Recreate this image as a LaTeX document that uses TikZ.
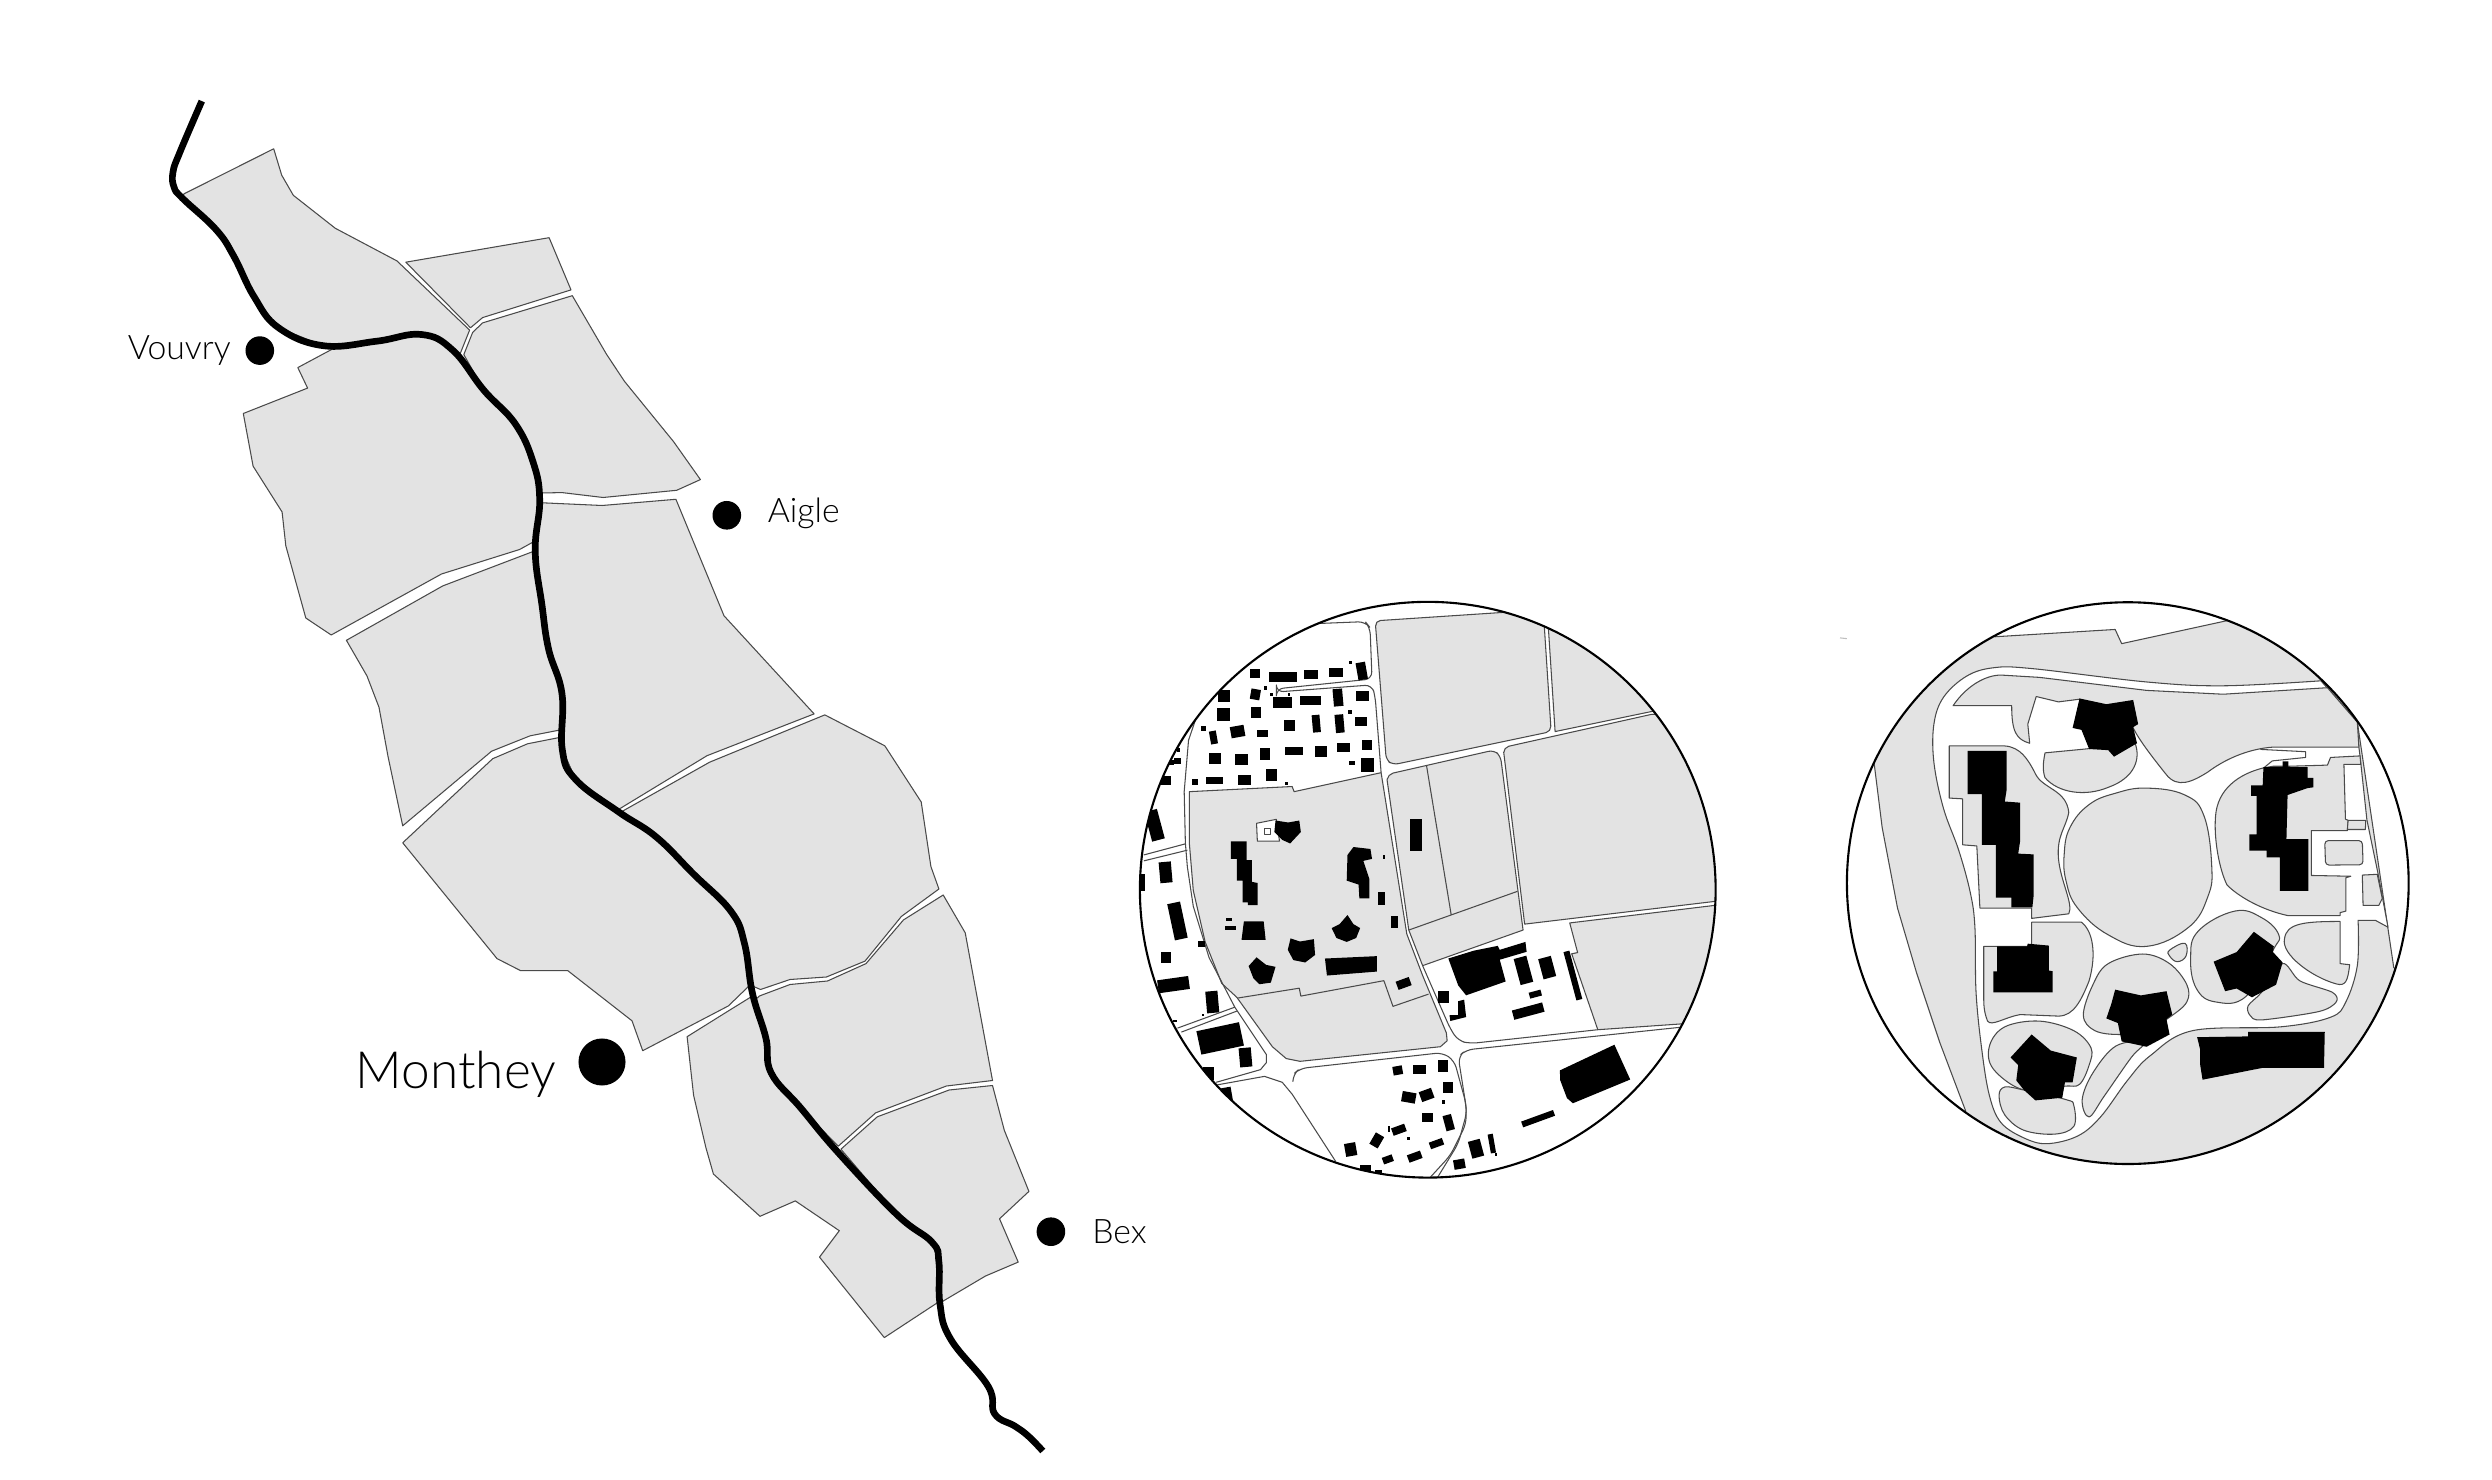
\documentclass[tikz,border=0pt]{standalone}
\usepackage{fontspec}
\setmainfont{Lato Light}
\usetikzlibrary{positioning}
\definecolor{fieldgray}{HTML}{E3E3E3}
\definecolor{linegray}{HTML}{4A4A4A}
\tikzset{
	fieldarea/.style={draw=linegray,fill=fieldgray,line width=0.3pt,line join=round},
	roadline/.style={draw=linegray,line width=0.3pt,line join=round},
	whitearea/.style={draw=linegray,fill=white,line width=0.3pt,line join=round},
	house/.style={fill=black},
	rivercourse/.style={draw=black,line width=1.9pt,line join=round},
	towndot/.style={circle,fill=black,inner sep=0pt,minimum size=0.286cm},
	citydot/.style={circle,fill=black,inner sep=0pt,minimum size=0.47cm},
	townlabel/.style={inner sep=0pt,font=\fontsize{9.6}{11}\selectfont},
	citylabel/.style={inner sep=0pt,font=\fontsize{14.6}{16}\selectfont},
	lens/.style={draw=black,line width=0.6pt}
}
\begin{document}
\begin{tikzpicture}[x=0.01cm,y=-0.01cm]
	\useasboundingbox (0,0) rectangle (2492,1480);
	\draw[fieldarea] (183.9,193.9) -- (273.7,148.8) -- (281.7,175.2) -- (293.3,195.3) -- (335.3,228.3) -- (396.9,260.9) -- (469.6,330.1) -- (459.8,354.6) -- (483.9,390.3) -- (515.2,423.8) -- (533,461.8) -- (539.7,499.7) -- (535,541) -- (519.6,549.5) -- (441.5,574) -- (331.2,635) -- (305.8,618) -- (285.8,545.8) -- (282.1,512) -- (253.1,466.2) -- (243.3,413.5) -- (307.6,388.1) -- (297.8,367.6) -- (334.4,348) -- (323.2,345.7) -- (278.6,327.8) -- (254,296.6) -- (233.9,256.4) -- (216,229.6) -- (182.6,198.4) -- cycle;
	\draw[fieldarea] (405.8,262.2) -- (549.1,237.7) -- (571,289.9) -- (482.6,317.6) -- (470.5,327.8) -- cycle;
	\draw[fieldarea] (572.3,295.7) -- (606.7,354.6) -- (624.5,381.4) -- (673.6,441.7) -- (700.4,479.6) -- (676.7,490.3) -- (603.1,497.5) -- (562,492.6) -- (541.9,493) -- (533,461.8) -- (515.2,423.8) -- (483.9,390.3) -- (463.8,354.6) -- (472.7,332.3) -- (482.6,322.9) -- cycle;
	\draw[fieldarea] (346.4,640.3) -- (442.8,585.9) -- (532.1,551.9) -- (535.2,551) -- (541.9,604.6) -- (548.6,649.2) -- (562,693.9) -- (561,729.8) -- (530.2,735.8) -- (491.6,751.2) -- (402.7,825.8) -- (388,756.4) -- (379,707.3) -- (367,676) -- cycle;
	\draw[fieldarea] (542,502.8) -- (602.2,505.5) -- (675.9,499.3) -- (724,615.8) -- (814.1,713.9) -- (707,755.7) -- (618.6,809.4) -- (575.7,779.6) -- (562.3,749.7) -- (562,693.9) -- (548.6,649.2) -- (541.9,604.6) -- (535.2,551) -- (539.7,502) -- cycle;
	\draw[fieldarea] (402.7,842.8) -- (492.7,758.7) -- (527.5,743.8) -- (562,737) -- (562.3,749.7) -- (575.7,779.6) -- (618.6,811.9) -- (656,836.8) -- (693.6,874.1) -- (731,911.4) -- (744.5,943.7) -- (750,985) -- (728.4,1005.9) -- (642.7,1050.7) -- (632,1020.8) -- (567.7,970.6) -- (520.5,970.6) -- (497,958.6) -- cycle;
	\draw[fieldarea] (824.8,714.9) -- (884.8,745.8) -- (921.2,802) -- (930.9,866.6) -- (938.9,889) -- (901.4,916.4) -- (865,961.1) -- (826.4,977) -- (790,979.5) -- (760.5,989.5) -- (750,985) -- (744.5,943.7) -- (731,911.4) -- (693.6,874.1) -- (656,836.8) -- (621.2,811.9) -- (709.6,762.2) -- cycle;
	\draw[fieldarea] (943.2,895) -- (965.2,932.8) -- (992.5,1080.5) -- (946.4,1086) -- (875.7,1112.8) -- (838.2,1146.2) -- (800.7,1107.9) -- (771.2,1073) -- (765.9,1038.2) -- (755,1000) -- (759.4,996) -- (790,984.5) -- (827.5,981) -- (866,963.6) -- (903.5,919.9) -- cycle;
	\draw[fieldarea] (687.1,1036.7) -- (728.4,1010.9) -- (752.5,996) -- (765.9,1038.2) -- (771.2,1073) -- (800.7,1107.9) -- (838.2,1152.6) -- (897.1,1214.8) -- (932,1242.2) -- (938.9,1262) -- (940,1304) -- (937.3,1302.8) -- (884.3,1337.6) -- (819.5,1257.1) -- (839.3,1230.7) -- (795.3,1200.9) -- (760,1216.3) -- (713.4,1174) -- (705.9,1147.7) -- (693.6,1095.4) -- cycle;
	\draw[fieldarea] (992.5,1085.5) -- (1004.3,1130.3) -- (1028.9,1191.4) -- (999.5,1218.8) -- (1018.2,1262.1) -- (985.5,1276) -- (940,1302.9) -- (938.9,1262) -- (932,1242.2) -- (897.1,1214.8) -- (840.9,1149.2) -- (877.3,1116.8) -- (949.1,1090) -- cycle;
	\draw[rivercourse] plot[smooth,tension=0.7] coordinates {(201.8,101.1) (180,152) (173,172) (174,187) (182.6,198.4) (216,229.6) (233.9,256.4) (254,296.6) (278.6,327.8) (323.2,345.7) (376.8,341.2) (421.4,334.5) (452.7,350.2) (483.9,390.3) (515.2,423.8) (533,461.8) (539.7,499.7) (535.2,551) (541.9,604.6) (548.6,649.2) (562,693.9) (562.3,749.7) (575.7,779.6) (618.6,811.9) (656,836.8) (693.6,874.1) (731,911.4) (744.5,943.7) (752.5,993.5) (765.9,1038.2) (771.2,1073) (800.7,1107.9) (838.2,1152.6) (897.1,1214.8) (932,1242.2) (938.9,1262) (940,1304.3) (950.7,1339.2) (988.2,1386.4) (994.6,1413.8) (1015,1426.2) (1028.4,1436.2) (1042.8,1451)};
	\node[towndot] (vouvry) at (259.8,350.6) {};
	\node[towndot] (aigle) at (726.8,515.3) {};
	\node[citydot] (monthey) at (602,1062) {};
	\node[towndot] (bex) at (1050.9,1231.7) {};
	\node[townlabel,left=3.8pt of vouvry] (vouvrylabel) {Vouvry};
	\node[townlabel,right=7.2pt of aigle,yshift=0.5pt] (aiglelabel) {Aigle};
	\node[citylabel,left=6pt of monthey,yshift=-3.4pt] (montheylabel) {Monthey};
	\node[townlabel,right=7.3pt of bex] (bexlabel) {Bex};
	\begin{scope}[shift={(1130,590)},x=0.003954cm,y=-0.003954cm]
		\begin{scope}
			\clip (753,758) circle [radius=728];
			\draw[fieldarea,rounded corners=1.5pt] (620,78) -- (1045,50) -- (1065,358) -- (665,442) -- (648,430) -- cycle;
			\draw[fieldarea] (1055,50) -- (1330,50) -- (1330,305) -- (1075,358) -- cycle;
			\draw[fieldarea] (998,845) -- (945,410) [rounded corners=1.5pt] -- (945,398) -- (1330,312) [sharp corners] -- (1500,400) -- (1500,785) -- cycle;
			\draw[fieldarea] (1112,842) -- (1500,795) -- (1500,1090) -- (1183,1112) -- (1117,920) -- (1132,917) -- cycle;
			\draw[fieldarea] (705,860) -- (650,480) [rounded corners=1.5pt] -- (652,466) -- (920,405) -- (937,420) [sharp corners] -- (994,860) -- (740,950) -- cycle;
			\draw[roadline] (750,445) -- (812,820) (705,860) -- (980,762);
			\draw[fieldarea] (150,510) -- (410,497) -- (415,510) -- (635,462) -- (700,870) -- (740,975) -- (800,1120) -- (802,1140) -- (785,1155) -- (430,1192) -- (395,1185) -- (360,1155) -- (270,1030) -- (232,995) -- (190,890) -- (160,760) -- (150,640) -- cycle;
			\draw[roadline] (272,1032) -- (428,1007) -- (432,1027) -- (642,988) -- (665,1053) -- (755,1022);
			\draw[whitearea] (320,590) -- (370,580) -- (378,635) -- (322,635) -- cycle;
			\draw[whitearea] (340,602) rectangle (356,618);
			\draw[roadline] (165,330) -- (148,380) -- (137,510) -- (140,640) -- (145,700) -- (160,800) -- (200,930) -- (265,1055) -- (345,1175) -- (345,1195) -- (330,1213) -- (218,1245);
			\draw[roadline] (35,670) -- (140,642) (35,685) -- (145,658);
			\draw[roadline] (120,1108) -- (265,1055) (130,1118) -- (270,1065);
			\draw[roadline] (218,1252) -- (340,1230) -- (385,1245) -- (410,1275) -- (520,1445);
			\draw[roadline,rounded corners=2pt] (470,85) -- (595,80) -- (607,95) -- (612,225) -- (370,250) -- (370,258) -- (612,240) -- (620,270) -- (635,462);
			\draw[roadline,rounded corners=2pt] (412,1240) -- (412,1225) -- (430,1210) -- (790,1170) -- (820,1190) -- (850,1300) -- (850,1350) -- (810,1430) -- (755,1490);
			\draw[roadline,rounded corners=2pt] (1400,1105) -- (850,1163) -- (830,1180) -- (852,1320) -- (830,1400) -- (775,1490);
			\draw[roadline,rounded corners=2pt] (740,950) -- (810,1110) -- (830,1140) -- (860,1147) -- (1183,1112);
			\foreach \bx/\by/\bw/\bh/\ba in {316/212/24/20/0,386/220/65/22/0,457/214/32/20/0,520/208/32/20/0,586/205/22/40/10,557/184/6/8/0,238/268/28/26/0,317/264/22/24/-10,342/248/8/8/0,358/264/8/8/0,402/264/6/6/0,385/285/44/24/0,456/279/48/20/0,526/272/22/40/5,588/268/28/24/0,237/315/30/28/0,318/310/22/24/0,556/308/8/8/0,584/333/28/20/0,186/350/10/10/0,272/358/32/26/10,335/362/24/16/0,404/343/26/26/0,471/338/18/40/5,530/338/20/42/5,211/373/16/30/10,414/408/42/18/0,483/408/28/24/0,540/398/30/20/0,600/392/24/24/0,215/427/26/26/0,282/428/28/26/0,342/415/22/26/0,600/442/30/32/0,561/437/14/10/0,357/468/26/26/0,213/481/40/16/0,289/480/30/24/0,165/485/14/14/0,396/489/8/8/0,120/432/14/14/0,105/437/12/12/0,122/405/8/8/0,90/481/26/20/0,62/595/30/70/15,90/714/28/48/5,28/740/16/40/0,120/837/30/85/12,180/895/16/14/0,91/929/24/24/0,110/998/72/30/8,208/1042/28/50/5,113/1090/10/6/0,185/1075/6/6/0,228/1134/100/55/12,292/1182/28/44/5,198/1222/24/30/0,245/1280/24/40/10,636/781/18/30/0,642/676/6/10/0,669/840/18/26/0,723/620/28/74/0,251/833/14/8/0,254/855/26/10/0,692/995/32/20/20,995/962/30/62/15,1055/955/30/48/15,1120/975/14/115/15,1025/1022/28/14/15,1007/1065/72/22/15,793/1030/24/28/0,1032/1337/78/14/20,875/1413/28/40/15,915/1400/12/44/10,926/1428/6/6/0,833/1452/26/22/10,677/1215/22/20/10,733/1213/30/22/0,792/1204/24/26/0,705/1283/32/24/-10,750/1277/30/24/20,804/1258/24/24/0,793/1295/8/8/0,752/1334/24/20/0,806/1347/20/36/15,680/1365/32/18/20,655/1362/6/14/0,624/1392/22/30/-30,704/1387/8/8/0,775/1400/32/16/20,558/1415/26/30/10,652/1440/24/16/20,720/1433/32/18/20,595/1463/24/16/0,628/1472/16/10/0} {
				\fill[house,rotate around={\ba:(\bx,\by)}] (\bx-0.55*\bw,\by-0.55*\bh) rectangle ++(1.1*\bw,1.1*\bh);
			}
			\fill[house] (255,636) -- (295,636) -- (295,683) -- (308,683) -- (308,738) -- (323,741) -- (323,797) -- (298,797) -- (298,790) -- (285,790) -- (285,735) -- (270,735) -- (270,680) -- (255,680) -- cycle;
			\fill[house] (368,583) -- (400,588) -- (428,583) -- (432,612) -- (405,641) -- (385,632) -- (365,612) -- cycle;
			\fill[house] (565,650) -- (608,655) -- (612,680) -- (590,685) -- (605,730) -- (605,780) -- (580,780) -- (578,745) -- (548,735) -- (550,670) -- cycle;
			\fill[house] (288,838) -- (338,838) -- (343,885) -- (282,885) -- cycle;
			\fill[house] (510,855) -- (530,845) -- (550,822) -- (565,845) -- (582,855) -- (572,880) -- (548,890) -- (522,880) -- cycle;
			\fill[house] (406,881) -- (430,889) -- (465,883) -- (468,923) -- (443,942) -- (413,936) -- (399,910) -- cycle;
			\fill[house] (320,929) -- (344,948) -- (368,953) -- (356,993) -- (327,997) -- (312,982) -- (300,951) -- cycle;
			\fill[house] (493,932) -- (624,926) -- (624,965) -- (498,975) -- cycle;
			\fill[house] (805,932) -- (870,912) -- (930,900) -- (935,910) -- (1000,890) -- (1003,915) -- (935,935) -- (950,990) -- (850,1025) -- (830,1000) -- cycle;
			\fill[house] (830,1040) -- (845,1036) -- (850,1080) -- (810,1090) -- (808,1075) -- (830,1075) -- cycle;
			\fill[house] (1087,1215) -- (1225,1150) -- (1265,1238) -- (1120,1298) -- (1105,1285) -- (1088,1240) -- cycle;
		\end{scope}
		\draw[lens] (753,758) circle [radius=728];
	\end{scope}
	\begin{scope}[shift={(1840,590)},x=0.003827cm,y=-0.003827cm]
		\draw[draw=lightgray,line width=0.3pt] (0,125) -- (18,127);
		\begin{scope}
			\clip (751,765) circle [radius=733];
			\draw[fieldarea] (90,460) -- (60,300) -- (300,100) -- (405,122) -- (718,103) -- (735,140) -- (1010,80) -- (1100,40) -- (1400,300) -- (1350,345) -- (1445,985) -- (1550,1100) -- (1000,1600) -- (300,1400) -- (328,1360) -- (260,1180) -- (200,1000) -- (150,830) -- (110,620) -- cycle;
			\draw[whitearea] plot[smooth,tension=0.6] coordinates {(1255,237) (1000,250) (800,240) (500,205) (400,203) (330,225) (270,280) (245,350) (245,450) (270,570) (310,680) (340,790) (352,880) (355,1050) (370,1200) (390,1320) (420,1390) (480,1430) (540,1445) (620,1425) (680,1375) (750,1280) (810,1215) (920,1150) (1150,1140) (1280,1115) (1320,1075) (1350,980) (1352,862)} -- (1397,862) -- (1430,880) -- (1404,740) -- (1375,600) -- (1357,433) -- (1354,410) -- (1350,345) -- cycle;
			\draw[fieldarea] (295,302) .. controls (330,250) and (380,222) .. (420,222) -- (520,228) -- (800,262) -- (1000,272) -- (1272,255) -- (1350,345) -- (1354,410) -- (1130,410) .. controls (1060,415) and (1000,445) .. (960,475) .. controls (920,500) and (880,520) .. (850,480) .. controls (810,430) and (780,390) .. (765,360) -- (625,285) -- (570,292) -- (512,278) -- (490,350) -- (495,400) .. controls (460,390) and (448,370) .. (448,302) -- cycle;
			\draw[roadline] (1097,416) -- (1215,422) -- (1215,437) -- (1128,446) -- (1106,464);
			\draw[fieldarea] (285,407) -- (430,407) .. controls (470,410) and (490,440) .. (510,480) .. controls (530,520) and (590,520) .. (597,580) .. controls (590,620) and (565,640) .. (570,700) .. controls (575,760) and (610,820) .. (597,845) -- (500,857) -- (500,830) -- (365,830) -- (357,668) -- (320,665) -- (320,545) -- (285,543) -- cycle;
			\draw[fieldarea] plot[smooth cycle,tension=0.7] coordinates {(800,517) (900,535) (950,590) (970,720) (960,800) (910,880) (800,930) (700,900) (620,830) (590,760) (585,690) (600,620) (650,560) (720,530)};
			\draw[fieldarea] (535,425) -- (640,415) -- (770,400) .. controls (785,440) and (770,490) .. (700,515) .. controls (640,540) and (570,530) .. (535,490) .. controls (528,470) and (530,450) .. (535,425) -- cycle;
			\draw[fieldarea] (1106,464) -- (1130,460) -- (1171,460) -- (1272,457) -- (1280,437) -- (1357,433) -- (1359,455) -- (1315,455) -- (1319,598) -- (1326,601) -- (1324,628) -- (1230,628) -- (1230,745) -- (1333,747) -- (1320,751) -- (1320,838) -- (1305,842) -- (1305,850) -- (1170,850) .. controls (1100,835) and (1040,800) .. (1010,770) .. controls (990,730) and (975,650) .. (980,590) .. controls (985,520) and (1040,480) .. (1106,464) -- cycle;
			\draw[fieldarea] (1326,601) -- (1372,601) -- (1371,625) -- (1324,625) -- cycle;
			\draw[fieldarea,rounded corners=1pt] (1265,654) -- (1363,654) -- (1365,717) -- (1267,718) -- cycle;
			\draw[fieldarea] (1363,744) -- (1402,742) -- (1415,805) -- (1406,823) -- (1365,823) -- cycle;
			\draw[fieldarea] (1305,865) -- (1305,975) -- (1330,978) .. controls (1325,1020) and (1320,1035) .. (1295,1028) .. controls (1230,1010) and (1150,950) .. (1160,910) .. controls (1165,870) and (1210,865) .. (1305,865) -- cycle;
			\draw[fieldarea] plot[smooth cycle,tension=0.7] coordinates {(1030,838) (1100,855) (1145,900) (1130,940) (1060,1060) (980,1075) (930,1040) (915,960) (935,890)};
			\draw[fieldarea] plot[smooth cycle,tension=0.5] coordinates {(1065,1085) (1100,1050) (1155,975) (1200,1020) (1285,1050) (1295,1075) (1250,1100) (1100,1122) (1070,1110)};
			\draw[fieldarea] plot[smooth cycle,tension=0.7] coordinates {(860,940) (900,922) (903,955) (880,970) (860,955)};
			\draw[fieldarea] plot[smooth cycle,tension=0.6] coordinates {(790,950) (860,975) (905,1030) (905,1075) (860,1115) (800,1150) (730,1160) (665,1150) (635,1110) (660,1030) (700,975)};
			\draw[fieldarea] (375,930) -- (500,930) -- (500,867) -- (630,867) .. controls (660,890) and (670,950) .. (650,1020) .. controls (630,1070) and (610,1112) .. (570,1112) -- (470,1108) .. controls (430,1115) and (395,1140) .. (385,1125) .. controls (375,1100) and (375,1080) .. (375,1060) -- cycle;
			\draw[fieldarea] plot[smooth cycle,tension=0.6] coordinates {(390,1190) (430,1140) (520,1125) (610,1150) (655,1195) (650,1240) (625,1290) (585,1295) (480,1305) (400,1250)};
			\draw[fieldarea] plot[smooth cycle,tension=0.6] coordinates {(415,1320) (430,1297) (480,1305) (590,1330) (610,1345) (610,1400) (560,1420) (480,1410) (430,1370)};
			\draw[fieldarea] plot[smooth cycle,tension=0.6] coordinates {(650,1375) (632,1330) (660,1260) (720,1190) (795,1180) (760,1220) (690,1320)};
			\fill[house] (625,283) -- (695,298) -- (765,287) -- (778,350) -- (765,358) -- (775,400) -- (715,435) -- (700,418) -- (650,415) -- (630,365) -- (607,360) -- cycle;
			\fill[house] (333,420) -- (435,420) -- (435,520) -- (430,552) -- (470,555) -- (470,655) -- (465,688) -- (505,690) -- (505,800) -- (502,828) -- (447,828) -- (447,803) -- (407,803) -- (407,665) -- (370,665) -- (370,533) -- (333,533) -- cycle;
			\fill[house] (1155,447) -- (1170,447) -- (1170,462) -- (1220,462) -- (1220,490) -- (1235,490) -- (1235,515) -- (1220,517) -- (1168,535) -- (1165,650) -- (1222,650) -- (1222,785) -- (1148,785) -- (1148,698) -- (1113,698) -- (1113,680) -- (1068,680) -- (1068,638) -- (1087,638) -- (1087,537) -- (1073,537) -- (1073,510) -- (1103,510) -- (1105,462) -- (1155,462) -- cycle;
			\fill[house] (410,930) -- (488,930) -- (490,923) -- (545,928) -- (545,993) -- (555,995) -- (555,1050) -- (400,1050) -- (400,995) -- (410,995) -- cycle;
			\fill[house] (718,1043) -- (785,1058) -- (852,1047) -- (867,1108) -- (852,1120) -- (860,1160) -- (800,1192) -- (735,1178) -- (725,1130) -- (695,1118) -- (708,1080) -- cycle;
			\fill[house] (1080,892) -- (1132,930) -- (1130,945) -- (1155,972) -- (1138,1030) -- (1075,1063) -- (1035,1040) -- (1005,1047) -- (975,970) -- (1035,945) -- cycle;
			\fill[house] (500,1160) -- (550,1202) -- (618,1220) -- (607,1285) -- (587,1285) -- (580,1325) -- (510,1332) -- (480,1305) -- (460,1280) -- (465,1240) -- (445,1220) -- cycle;
			\fill[house] (932,1167) -- (1065,1165) -- (1065,1153) -- (1265,1153) -- (1263,1247) -- (1103,1247) -- (946,1278) -- (940,1240) -- (940,1200) -- cycle;
		\end{scope}
		\draw[lens] (751,765) circle [radius=733];
	\end{scope}
\end{tikzpicture}
\end{document}
